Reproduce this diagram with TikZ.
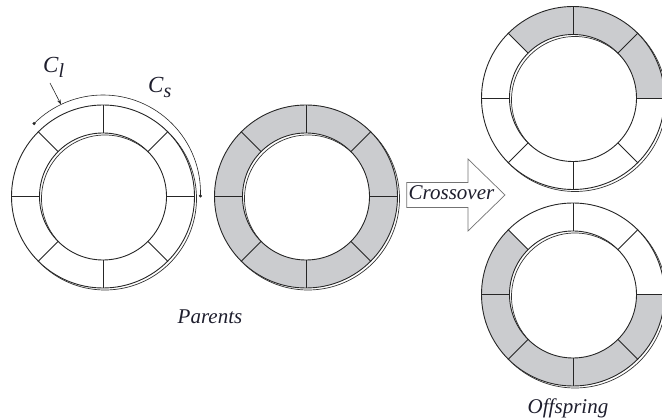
\documentclass[tikz,border=0pt]{standalone}
\usepackage{fontspec}
\setmainfont{Liberation Serif}
\usetikzlibrary{arrows.meta,calc}

\definecolor{segfill}{RGB}{203,204,207}
\definecolor{inkdark}{RGB}{30,30,45}

\newcommand{\Rout}{91.5}
\newcommand{\Rin}{63.5}

% one chromosome ring: #1 centre name, gray band from angle #2 to angle #3
\newcommand{\donut}[3]{%
  \draw[shadowline] ([shift={(2,-2)}]#1) circle[radius=\Rout];
  \draw[shadowline] ([shift={(2,-2)}]#1) circle[radius=\Rin];
  \fill[white, even odd rule] (#1) circle[radius=\Rout] (#1) circle[radius=\Rin];
  \fill[segfill] ([shift={(#2:\Rout)}]#1) arc[start angle=#2, end angle=#3, radius=\Rout]
      -- ([shift={(#3:\Rin)}]#1) arc[start angle=#3, end angle=#2, radius=\Rin] -- cycle;
  \draw[ringline] (#1) circle[radius=\Rout] (#1) circle[radius=\Rin];
  \foreach \a in {0,45,...,315}
    \draw[divider] ([shift={(\a:\Rin)}]#1) -- ([shift={(\a:\Rout)}]#1);
}

\tikzset{
  ringline/.style={line width=0.9pt, draw=black!85},
  shadowline/.style={line width=0.7pt, draw=black!80},
  divider/.style={line width=0.8pt, draw=black!85},
  lbl/.style={font=\fontsize{21}{24}\selectfont\itshape, text=inkdark, inner sep=0pt},
  symlbl/.style={font=\fontsize{23}{26}\selectfont\itshape, text=inkdark, inner sep=0pt},
  spanarc/.style={line width=0.6pt, draw=black!85},
  enddot/.style={fill=black!85},
  pointer/.style={line width=0.6pt, draw=black!85, -{Stealth[length=5pt,width=3.5pt]}},
  bigarrow/.style={line width=0.7pt, draw=black!55, fill=white, line join=miter},
}

\begin{document}
\begin{tikzpicture}[x=1pt, y=1pt]
  \useasboundingbox (0,0) rectangle (662,420);
  \clip (0,0) rectangle (662,420);

  % ring centres
  \coordinate (p1) at (103,223.5);
  \coordinate (p2) at (306,223.5);
  \coordinate (o1) at (573,322);
  \coordinate (o2) at (573,125.5);

  % parents
  \donut{p1}{0}{0}
  \donut{p2}{0}{360}
  % offspring
  \donut{o1}{0}{135}
  \donut{o2}{135}{360}

  % crossover span on the first parent
  \coordinate (arcc) at (103,227.5);
  \coordinate (spanA) at ($(arcc)+(135:97.5)$);
  \draw[spanarc] (spanA) arc[start angle=135, end angle=-2, radius=97.5] coordinate (spanB);
  \fill[enddot] (spanA) circle[radius=1.7];
  \fill[enddot] (spanB) circle[radius=1.7];

  \node[symlbl, anchor=base west] (cl) at (43,347) {C\raisebox{-5pt}{\fontsize{20}{22}\selectfont l}};
  \node[symlbl, anchor=base west] (cs) at (148,327) {C\raisebox{-5pt}{\fontsize{20}{22}\selectfont s}};
  \coordinate (clfoot) at (50,337);
  \coordinate (clpt) at ($(arcc)+(115.5:97.5)$);
  \draw[pointer] (clfoot) -- (clpt);

  % crossover arrow
  \draw[bigarrow] (406.7,212.5) -- (406.7,237.5) -- (468,237.5) -- (468,261)
      -- (505,225) -- (468,189) -- (468,212.5) -- cycle;
  \node[lbl, anchor=base] (xo) at (451.5,220.5) {Crossover};

  % captions
  \node[lbl, anchor=base] (par) at (210,96) {Parents};
  \node[lbl, anchor=base] (off) at (568,6) {Offspring};
\end{tikzpicture}
\end{document}
